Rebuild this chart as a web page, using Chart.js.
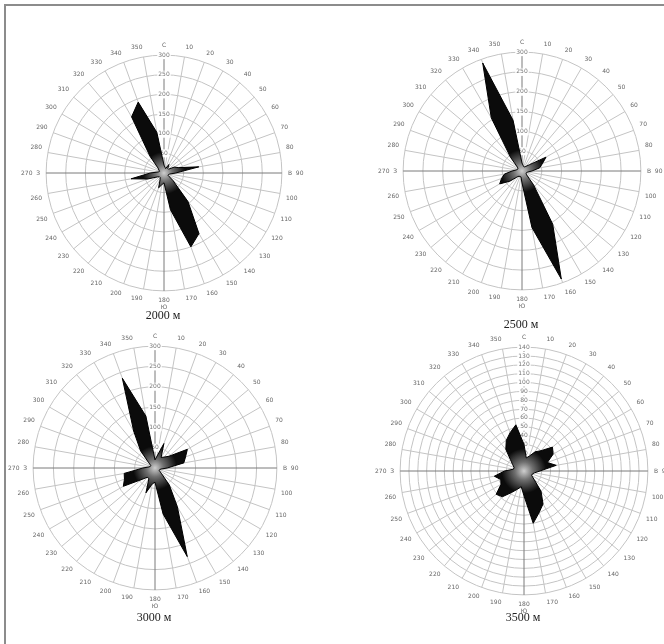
<!DOCTYPE html>
<html>
<head>
<meta charset="utf-8">
<script src="https://cdn.jsdelivr.net/npm/chart.js@4/dist/chart.umd.min.js"></script>
<style>
  html, body { margin: 0; padding: 0; background: #fff; overflow: hidden; width: 664px; height: 644px; }
  #frame { position: absolute; left: 4px; top: 4px; width: 700px; height: 700px;
           border-left: 2px solid #8c8c8c; border-top: 2px solid #8c8c8c; }
  .cell { position: absolute; }
  .title { position: absolute; font-family: 'Liberation Serif', 'DejaVu Serif', serif; font-size: 12px;
           color: #222; transform: translateX(-50%); white-space: nowrap; }
</style>
</head>
<body>
<div id="frame"></div>

<script>
// Wind directions, degrees from north, clockwise (10° sectors)
const directions = [0, 10, 20, 30, 40, 50, 60, 70, 80, 90, 100, 110, 120, 130, 140, 150, 160, 170,
                    180, 190, 200, 210, 220, 230, 240, 250, 260, 270, 280, 290, 300, 310, 320, 330, 340, 350];

// Labels around the rose: cardinal points in Russian plus degree marks
const directionLabels = ['С', '10', '20', '30', '40', '50', '60', '70', '80', 'В  90',
                         '100', '110', '120', '130', '140', '150', '160', '170', ['180', 'Ю'],
                         '190', '200', '210', '220', '230', '240', '250', '260', '270  З',
                         '280', '290', '300', '310', '320', '330', '340', '350'];

// Heights of the four roses
const heights = ['2000 м', '2500 м', '3000 м', '3500 м'];

// Frequency of each direction at every height
const rose2000 = [20, 15, 12, 25, 15, 15, 30, 40, 90, 30, 15, 12, 12, 30, 95, 178, 200, 95,
                  25, 30, 40, 20, 15, 15, 20, 45, 85, 35, 15, 12, 15, 20, 55, 165, 192, 105];
const rose2500 = [20, 15, 12, 12, 15, 25, 70, 55, 45, 25, 15, 12, 12, 15, 45, 155, 290, 145,
                  30, 15, 15, 15, 20, 40, 65, 55, 45, 25, 15, 12, 12, 15, 45, 155, 290, 130];
const rose3000 = [20, 30, 64, 30, 35, 45, 92, 80, 72, 30, 15, 12, 12, 20, 55, 110, 232, 115,
                  35, 40, 65, 30, 30, 45, 90, 80, 77, 30, 15, 12, 12, 20, 55, 105, 235, 130];
const rose3500 = [30, 15, 18, 25, 30, 42, 38, 28, 37, 18, 12, 10, 10, 15, 30, 43, 50, 60,
                  28, 18, 22, 28, 38, 41, 30, 28, 34, 22, 12, 12, 15, 20, 32, 40, 46, 53];

// Radial scale of each rose
const scaleMax  = [300, 300, 300, 140];
const scaleStep = [50, 50, 50, 10];

const roses = [rose2000, rose2500, rose3000, rose3500];

// Page placement of each rose: centre and canvas size
const placement = [
  { cx: 163, cy: 177, size: 286, ty: 308 },
  { cx: 521, cy: 175, size: 288, ty: 317 },
  { cx: 154, cy: 472, size: 294, ty: 610 },
  { cx: 523, cy: 475, size: 298, ty: 610 }
];

function roseFill(context) {
  const chart = context.chart;
  const r = chart.scales.r;
  if (!r || !chart.chartArea) return '#111';
  const g = chart.ctx.createRadialGradient(r.xCenter, r.yCenter, 0, r.xCenter, r.yCenter, r.drawingArea * 0.18);
  g.addColorStop(0, '#cfcfcf');
  g.addColorStop(0.4, '#707070');
  g.addColorStop(1, '#0b0b0b');
  return g;
}

roses.forEach((values, i) => {
  const p = placement[i];
  const div = document.createElement('div');
  div.className = 'cell';
  div.style.left = (p.cx - p.size / 2) + 'px';
  div.style.top = (p.cy - p.size / 2) + 'px';
  div.style.width = p.size + 'px';
  div.style.height = p.size + 'px';
  const canvas = document.createElement('canvas');
  canvas.width = p.size;
  canvas.height = p.size;
  div.appendChild(canvas);
  document.body.appendChild(div);

  const t = document.createElement('div');
  t.className = 'title';
  t.style.left = p.cx + 'px';
  t.style.top = p.ty + 'px';
  t.textContent = heights[i];
  document.body.appendChild(t);

  new Chart(canvas, {
    type: 'radar',
    data: {
      labels: directionLabels,
      datasets: [{
        label: heights[i],
        data: values,
        borderColor: '#000',
        borderWidth: 1,
        backgroundColor: roseFill,
        fill: true,
        pointRadius: 0,
        tension: 0
      }]
    },
    options: {
      responsive: false,
      animation: false,
      devicePixelRatio: 1,
      layout: { padding: 0 },
      plugins: { legend: { display: false }, tooltip: { enabled: false } },
      scales: {
        r: {
          min: 0,
          max: scaleMax[i],
          beginAtZero: true,
          grid: { circular: true, color: '#c4c4c4', lineWidth: 1 },
          angleLines: {
            color: (ctx) => (ctx.index % 9 === 0 ? '#7a7a7a' : '#c4c4c4'),
            lineWidth: 1
          },
          ticks: {
            stepSize: scaleStep[i],
            font: { size: 6, family: 'DejaVu Sans' },
            color: '#777',
            backdropColor: '#fff',
            backdropPadding: 1
          },
          pointLabels: {
            font: { size: 6, family: 'DejaVu Sans' },
            color: '#666',
            padding: 2
          }
        }
      }
    }
  });
});
</script>
</body>
</html>
